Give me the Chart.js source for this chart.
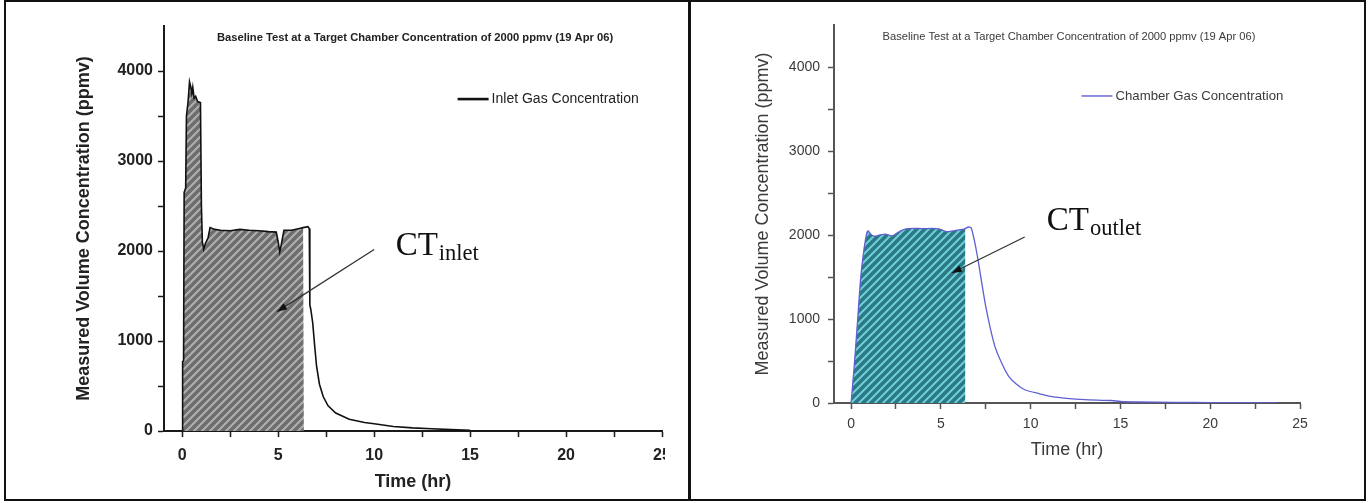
<!DOCTYPE html>
<html lang="en">
<head>
<meta charset="UTF-8">
<title>Baseline Test CT inlet / outlet</title>
<script src="https://cdn.jsdelivr.net/npm/chart.js"></script>
<style>
  body { margin: 0; background: #fff; }
  #frame { position: absolute; left: 4px; top: 0; width: 1362px; height: 501px; box-sizing: border-box; border: 2px solid #111; }
  #divider { position: absolute; left: 688px; top: 0; width: 3px; height: 501px; background: #111; }
  #leftWrap { position: absolute; left: 7px; top: 2px; width: 658px; height: 497px; overflow: hidden; }
  #rightWrap { position: absolute; left: 692px; top: 2px; width: 672px; height: 497px; overflow: hidden; }
</style>
</head>
<body>
<div id="frame"></div>
<div id="divider"></div>
<div id="leftWrap"><canvas id="inletChart" width="682" height="497"></canvas></div>
<div id="rightWrap"><canvas id="outletChart" width="672" height="497"></canvas></div>

<script>
// values
const chartTitleL = 'Baseline Test at a Target Chamber Concentration of 2000 ppmv (19 Apr 06)';
const chartTitleR = 'Baseline Test at a Target Chamber Concentration of 2000 ppmv (19 Apr 06)';
const xTitle = 'Time (hr)';
const yTitle = 'Measured Volume Concentration (ppmv)';
const xTickVals = [0, 2.5, 5, 7.5, 10, 12.5, 15, 17.5, 20, 22.5, 25];
const yTickVals = [0, 500, 1000, 1500, 2000, 2500, 3000, 3500, 4000];

const inletLabel = 'Inlet Gas Concentration';
const inletT = [0, 0.02, 0.07, 0.1, 0.18, 0.22, 0.3, 0.38, 0.45, 0.5, 0.55, 0.62, 0.7, 0.8, 0.95, 1.0, 1.05, 1.12, 1.2, 1.35, 1.45, 1.7, 2.0, 2.5, 3.0, 3.5, 4.0, 4.5, 4.9, 5.0, 5.08, 5.15, 5.3, 5.7, 6.1, 6.3, 6.55, 6.62, 6.65, 6.7, 6.8, 6.9, 7.0, 7.15, 7.35, 7.6, 8.0, 8.7, 9.5, 10, 11, 12, 13, 14, 15];
const inletV = [0, 770, 780, 2650, 2700, 3500, 3650, 3880, 3820, 3750, 3820, 3700, 3720, 3660, 3650, 2500, 2100, 2020, 2080, 2150, 2260, 2240, 2230, 2225, 2240, 2230, 2225, 2215, 2210, 2100, 1990, 2060, 2230, 2230, 2250, 2260, 2270, 2250, 1400, 1350, 1200, 950, 720, 520, 380, 280, 200, 130, 95, 80, 50, 35, 25, 15, 8];
const inletShadeEnd = [6.34, 2260];

const outletLabel = 'Chamber Gas Concentration';
const outletT = [0, 0.18, 0.37, 0.54, 0.7, 0.87, 0.95, 1.1, 1.3, 1.6, 1.9, 2.3, 2.6, 3.0, 3.5, 4.0, 4.5, 4.9, 5.3, 5.7, 6.0, 6.3, 6.55, 6.7, 7.0, 7.5, 8.0, 8.4, 8.8, 9.2, 9.7, 10.5, 11.2, 12, 13, 14.5, 15, 16, 18, 20, 22, 23.7];
const outletV = [0, 450, 1000, 1500, 1800, 2020, 2050, 2010, 1985, 2000, 2010, 1990, 2030, 2070, 2080, 2075, 2078, 2072, 2040, 2050, 2060, 2070, 2095, 2080, 1790, 1150, 680, 470, 310, 225, 155, 110, 75, 55, 40, 30, 18, 12, 8, 5, 3, 2];
const outletShadeEnd = [6.37, 2070];

function pts(t, v) { return t.map((x, i) => ({ x: x, y: v[i] })); }
function shadePts(t, v, end) {
  const p = pts(t, v).filter(d => d.x < end[0]);
  p.push({ x: end[0], y: end[1] });
  return p;
}

function hatch(base, stripe) {
  const c = document.createElement('canvas');
  c.width = 8; c.height = 8;
  const g = c.getContext('2d');
  g.fillStyle = base; g.fillRect(0, 0, 8, 8);
  g.strokeStyle = stripe; g.lineWidth = 2;
  g.beginPath();
  g.moveTo(-2, 10); g.lineTo(10, -2);
  g.moveTo(-6, 6); g.lineTo(6, -6);
  g.moveTo(2, 14); g.lineTo(14, 2);
  g.stroke();
  return g.createPattern(c, 'repeat');
}

// title, legend, arrow and CT label drawn inside the plot
const notes = {
  id: 'notes',
  afterDatasetsDraw(chart, args, o) {
    const { ctx, chartArea: a, scales: { x, y } } = chart;
    ctx.save();
    ctx.fillStyle = o.textColor;
    ctx.font = o.titleFont;
    ctx.textAlign = 'center';
    ctx.textBaseline = 'middle';
    ctx.fillText(o.title, (a.left + a.right) / 2 + 2, a.top + 12);

    const lx = x.getPixelForValue(o.legendAt[0]), ly = y.getPixelForValue(o.legendAt[1]);
    ctx.strokeStyle = o.lineColor; ctx.lineWidth = o.legendLineWidth;
    ctx.beginPath(); ctx.moveTo(lx, ly); ctx.lineTo(lx + 31, ly); ctx.stroke();
    ctx.font = o.legendFont; ctx.textAlign = 'left';
    ctx.fillText(o.legend, lx + 34, ly);

    const x0 = x.getPixelForValue(o.arrow[0]), y0 = y.getPixelForValue(o.arrow[1]);
    const x1 = x.getPixelForValue(o.arrow[2]), y1 = y.getPixelForValue(o.arrow[3]);
    ctx.strokeStyle = '#333'; ctx.lineWidth = 1.3;
    ctx.beginPath(); ctx.moveTo(x0, y0); ctx.lineTo(x1, y1); ctx.stroke();
    const ang = Math.atan2(y1 - y0, x1 - x0);
    ctx.fillStyle = '#111';
    ctx.beginPath();
    ctx.moveTo(x1, y1);
    ctx.lineTo(x1 - 10 * Math.cos(ang) + 3.5 * Math.sin(ang), y1 - 10 * Math.sin(ang) - 3.5 * Math.cos(ang));
    ctx.lineTo(x1 - 10 * Math.cos(ang) - 3.5 * Math.sin(ang), y1 - 10 * Math.sin(ang) + 3.5 * Math.cos(ang));
    ctx.closePath(); ctx.fill();

    const cx = x.getPixelForValue(o.ctAt[0]), cy = y.getPixelForValue(o.ctAt[1]);
    ctx.textBaseline = 'alphabetic';
    ctx.font = '33px "Liberation Serif"';
    ctx.fillText('CT', cx, cy);
    const w = ctx.measureText('CT').width;
    ctx.font = '22.5px "Liberation Serif"';
    ctx.fillText(o.sub, cx + w + 1, cy + 5);
    ctx.restore();
  }
};

function makeChart(id, opt) {
  const ctx = document.getElementById(id).getContext('2d');
  return new Chart(ctx, {
    type: 'line',
    data: {
      datasets: [
        { data: opt.line, borderColor: opt.lineColor, borderWidth: opt.lineWidth, pointRadius: 0, tension: opt.tension, fill: false, order: 1 },
        { data: opt.shade, borderWidth: 0, pointRadius: 0, tension: opt.tension, fill: 'origin', backgroundColor: opt.pattern, order: 2 }
      ]
    },
    plugins: [notes],
    options: {
      responsive: false,
      devicePixelRatio: 1,
      animation: false,
      layout: { padding: opt.pad },
      plugins: {
        legend: { display: false },
        tooltip: { enabled: false },
        notes: {
          title: opt.title, titleFont: opt.titleFont, textColor: opt.textColor,
          legend: opt.legend, legendFont: opt.legendFont, legendAt: opt.legendAt,
          lineColor: opt.lineColor, legendLineWidth: opt.legendLineWidth,
          arrow: opt.arrow, ctAt: opt.ctAt, sub: opt.sub
        }
      },
      scales: {
        x: {
          type: 'linear', min: -0.95, max: 25,
          afterBuildTicks: s => { s.ticks = xTickVals.map(v => ({ value: v })); },
          afterFit: s => { s.height = opt.xh; },
          border: { color: opt.axisColor, width: 2 },
          grid: { drawOnChartArea: false, drawTicks: true, tickLength: 6, tickColor: opt.axisColor, tickWidth: 1.5 },
          ticks: { autoSkip: false, maxRotation: 0, padding: opt.xPad, color: opt.textColor, font: opt.tickFont,
            callback: v => (v % 5 === 0 ? v : '') },
          title: { display: true, text: xTitle, color: opt.textColor, font: opt.xTitleFont, padding: { top: 4, bottom: 4 } }
        },
        y: {
          type: 'linear', min: 0, max: 4500,
          afterBuildTicks: s => { s.ticks = yTickVals.map(v => ({ value: v })); },
          afterFit: s => { s.width = opt.yw; },
          border: { color: opt.axisColor, width: 2 },
          grid: { drawOnChartArea: false, drawTicks: true, tickLength: 6, tickColor: opt.axisColor, tickWidth: 1.5 },
          ticks: { autoSkip: false, padding: opt.yPad, color: opt.textColor, font: opt.tickFont,
            callback: v => (v % 1000 === 0 ? v : '') },
          title: { display: true, text: yTitle, color: opt.textColor, font: opt.yTitleFont, padding: { top: 4, bottom: 4 } }
        }
      }
    }
  });
}

makeChart('inletChart', {
  line: pts(inletT, inletV),
  shade: shadePts(inletT, inletV, inletShadeEnd),
  pattern: hatch('#6e6e6e', '#b0b0b0'),
  lineColor: '#111', lineWidth: 1.6, legendLineWidth: 2.6, tension: 0,
  axisColor: '#1a1a1a', textColor: '#222',
  title: chartTitleL, titleFont: 'bold 11.2px "Liberation Sans"',
  legend: inletLabel, legendFont: '14px "Liberation Sans"', legendAt: [14.35, 3688],
  arrow: [10.0, 2017, 4.94, 1326], ctAt: [11.12, 1961], sub: 'inlet',
  tickFont: { family: 'Liberation Sans', size: 16, weight: 'bold' },
  xTitleFont: { family: 'Liberation Sans', size: 18, weight: 'bold' },
  yTitleFont: { family: 'Liberation Sans', size: 18, weight: 'bold' },
  xPad: 9, yPad: 5,
  pad: { left: 62, top: 24, right: 27, bottom: 2 }, yw: 95, xh: 66
});

makeChart('outletChart', {
  line: pts(outletT, outletV),
  shade: shadePts(outletT, outletV, outletShadeEnd),
  pattern: hatch('#2c7883', '#6ccfdb'),
  lineColor: '#5f5fd2', lineWidth: 1.3, legendLineWidth: 1.4, tension: 0.25,
  axisColor: '#555', textColor: '#3a3a3a',
  title: chartTitleR, titleFont: '11.15px "Liberation Sans"',
  legend: outletLabel, legendFont: '13.2px "Liberation Sans"', legendAt: [12.83, 3655],
  arrow: [9.67, 1976, 5.61, 1548], ctAt: [10.9, 2060], sub: 'outlet',
  tickFont: { family: 'Liberation Sans', size: 14 },
  xTitleFont: { family: 'Liberation Sans', size: 18 },
  yTitleFont: { family: 'Liberation Sans', size: 18 },
  xPad: 7, yPad: 8,
  pad: { left: 56, top: 23, right: 64, bottom: 34 }, yw: 86, xh: 62
});
</script>
</body>
</html>
